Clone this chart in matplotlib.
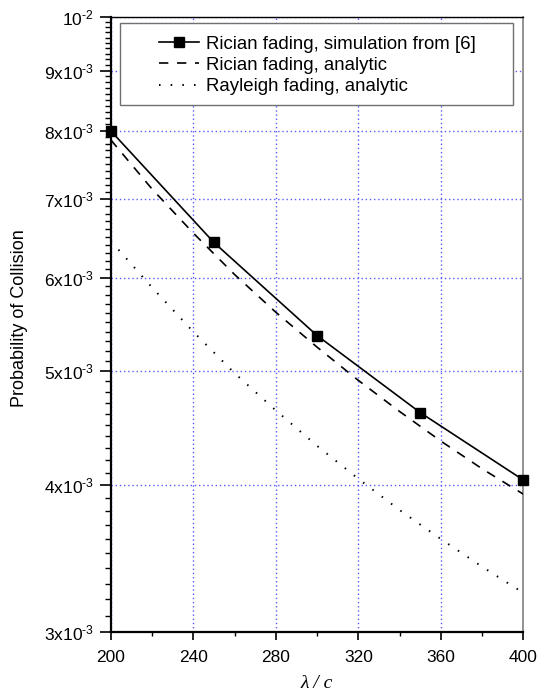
import matplotlib
matplotlib.use('Agg')
import matplotlib.pyplot as plt
from matplotlib.ticker import FixedLocator, FixedFormatter, NullFormatter
from matplotlib.patches import Rectangle

plt.rcParams['font.family'] = ['Liberation Sans', 'DejaVu Sans']
plt.rcParams['mathtext.fontset'] = 'custom'
plt.rcParams['mathtext.rm'] = 'Liberation Sans'
plt.rcParams['mathtext.it'] = 'Liberation Sans:italic'
plt.rcParams['mathtext.bf'] = 'Liberation Sans:bold'

# ---- data ----
sim_x = [200, 250, 300, 350, 400]
sim_y = [8.00e-3, 6.43e-3, 5.36e-3, 4.61e-3, 4.04e-3]

ana_x = [200, 220, 240, 260, 280, 300, 320, 340, 360, 380, 400]
rician_y = [7.86e-3, 7.14e-3, 6.55e-3, 6.04e-3, 5.61e-3, 5.24e-3,
            4.91e-3, 4.62e-3, 4.36e-3, 4.13e-3, 3.93e-3]
rayleigh_y = [6.45e-3, 5.89e-3, 5.40e-3, 4.98e-3, 4.63e-3, 4.32e-3,
              4.05e-3, 3.81e-3, 3.60e-3, 3.41e-3, 3.24e-3]

labels = ['Rician fading, simulation from [6]',
          'Rician fading, analytic',
          'Rayleigh fading, analytic']

x_ticks = [200, 240, 280, 320, 360, 400]
x_minor = [220, 260, 300, 340, 380]
y_ticks = [3e-3, 4e-3, 5e-3, 6e-3, 7e-3, 8e-3, 9e-3, 1e-2]
y_tick_labels = [r'3x10$^{\text{-3}}$', r'4x10$^{\text{-3}}$', r'5x10$^{\text{-3}}$',
                 r'6x10$^{\text{-3}}$', r'7x10$^{\text{-3}}$', r'8x10$^{\text{-3}}$',
                 r'9x10$^{\text{-3}}$', r'10$^{\text{-2}}$']
y_minor = [(30 + k) * 1e-4 for k in range(0, 71)]

# ---- figure ----
fig = plt.figure(figsize=(5.38, 6.93), dpi=100)
ax = fig.add_axes([0.2058, 0.0876, 0.7672, 0.8883])

ax.set_yscale('log')
ax.set_xlim(200, 400)
ax.set_ylim(3e-3, 1e-2)

ax.plot(sim_x, sim_y, color='black', lw=1.2, marker='s', markersize=7,
        markerfacecolor='black', markeredgecolor='black', label=labels[0],
        clip_on=False, zorder=3)
ax.plot(ana_x, rician_y, color='black', lw=1.2, linestyle=(0, (5.6, 5.2)),
        label=labels[1], zorder=3)
ax.plot(ana_x, rayleigh_y, color='black', lw=1.4, linestyle=(0, (0.8, 5.2)),
        label=labels[2], zorder=3)

# ticks
ax.xaxis.set_major_locator(FixedLocator(x_ticks))
ax.xaxis.set_minor_locator(FixedLocator(x_minor))
ax.xaxis.set_minor_formatter(NullFormatter())
ax.set_xticklabels([str(v) for v in x_ticks])
ax.yaxis.set_major_locator(FixedLocator(y_ticks))
ax.yaxis.set_major_formatter(FixedFormatter(y_tick_labels))
ax.yaxis.set_minor_locator(FixedLocator(y_minor))
ax.yaxis.set_minor_formatter(NullFormatter())

ax.tick_params(axis='y', which='major', direction='out', length=8, width=1.2,
               labelsize=12.5, pad=4, left=True, right=False)
ax.tick_params(axis='y', which='minor', direction='out', length=4, width=1.0,
               left=True, right=False)
ax.tick_params(axis='x', which='major', direction='out', length=6, width=1.2,
               labelsize=12.5, pad=7, bottom=True, top=False)
ax.tick_params(axis='x', which='minor', direction='out', length=3, width=1.0,
               bottom=True, top=False)

# grid
ax.grid(True, which='major', color='#5a5aff', linestyle=(0, (1, 2)), lw=1.0)
ax.set_axisbelow(True)

# spines
ax.spines['left'].set_linewidth(1.6)
ax.spines['bottom'].set_linewidth(1.6)
ax.spines['top'].set_linewidth(1.0)
ax.spines['top'].set_color('black')
ax.spines['right'].set_linewidth(1.2)
ax.spines['right'].set_color('#808080')

# labels
ax.set_ylabel('Probability of Collision', fontsize=13)
ax.yaxis.set_label_coords(-0.20, 0.51)
ax.set_xlabel('λ / c', fontsize=14, family=['Liberation Serif', 'DejaVu Serif'],
              style='italic')
ax.xaxis.set_label_coords(0.5, -0.069)

# legend with its own frame
frame = Rectangle((0.0225, 0.8566), 0.952, 0.1337, transform=ax.transAxes,
                  facecolor='white', edgecolor='#707070', lw=1.0, zorder=4)
ax.add_patch(frame)
leg = ax.legend(loc='upper left', bbox_to_anchor=(0.117, 0.969), frameon=False,
                fontsize=13.4, borderpad=0, borderaxespad=0, handlelength=2.16,
                handletextpad=0.38, labelspacing=0.22)
leg.set_zorder(5)

fig.savefig('out.png', dpi=100)
